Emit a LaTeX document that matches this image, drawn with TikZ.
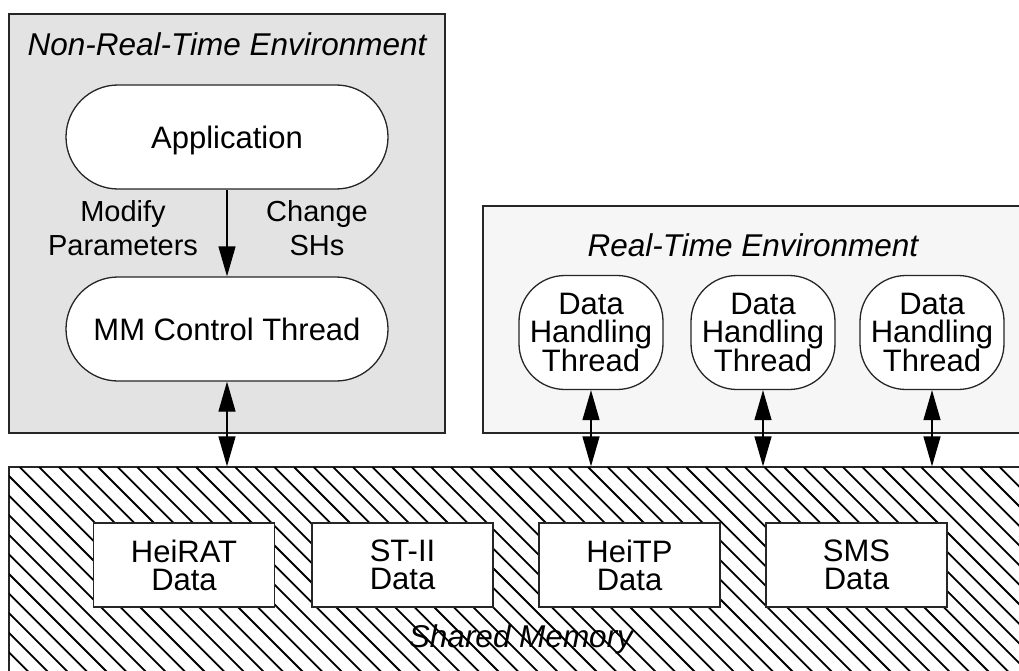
\documentclass[tikz,border=0pt]{standalone}
\usepackage{fontspec}
\setmainfont{Liberation Sans}
\usetikzlibrary{arrows.meta}

\begin{document}
\begin{tikzpicture}[x=1pt, y=-1pt,
  every node/.style={font=\fontsize{31}{28}\selectfont, align=center, inner sep=0pt},
  frame/.style={draw=black!85, line width=1.3pt},
  envbox/.style={frame},
  proc/.style={frame, fill=white, rounded corners=52pt,
    minimum width=322pt, minimum height=104pt, text height=23pt, text depth=0pt},
  dhthread/.style={frame, fill=white, rounded corners=46pt,
    minimum width=144pt, minimum height=114pt},
  databox/.style={frame, fill=white, minimum width=181pt, minimum height=84pt,
    font=\fontsize{31}{28}\selectfont},
  envtitle/.style={font=\fontsize{31.5}{34}\selectfont\itshape},
  flowlabel/.style={font=\fontsize{29}{34}\selectfont},
  flow/.style={line width=1.3pt, -{Triangle[length=30pt, width=17pt]}},
  duplex/.style={line width=1.3pt, {Triangle[length=30pt, width=17pt]}-{Triangle[length=30pt, width=17pt]}},
  hatch/.style={line width=1.8pt, black}
]
\clip (0,0) rectangle (1019,671);

% environments
\node[envbox, fill=black!11, minimum width=436pt, minimum height=419pt] (nrt) at (227,223.5) {};
\node[envbox, fill=black!3.5, minimum width=580pt, minimum height=227pt] (rt) at (773,319.5) {};

% shared memory region with hatching
\node[frame, fill=white, minimum width=1031pt, minimum height=233pt] (shm) at (524.5,583.5) {};
\begin{scope}
  \clip (shm.north west) rectangle (shm.south east);
  \foreach \k in {-14,...,54}
    \draw[hatch] (\k*19.6,467) -- ++(240,240);
\end{scope}
\draw[frame] (shm.south west) -- (shm.north west) -- (shm.north east);

% titles
\node[envtitle] (nrttitle) at (227,44) {Non-Real-Time Environment};
\node[envtitle] (rttitle) at (753,245.5) {Real-Time Environment};
\node[envtitle] (shmtitle) at (521,639) {Shared Memory};

% non-real-time processes
\node[proc] (app) at (227,137) {Application};
\node[proc] (mm) at (227,329) {MM Control Thread};
\draw[flow] (app.south) -- (mm.north);
\node[flowlabel] (modify) at (123,228) {Modify\\Parameters};
\node[flowlabel] (change) at (317,228) {Change\\SHs};

% real-time data handling threads
\node[dhthread] (dh1) at (591,332.5) {Data\\Handling\\Thread};
\node[dhthread] (dh2) at (763,332.5) {Data\\Handling\\Thread};
\node[dhthread] (dh3) at (932,332.5) {Data\\Handling\\Thread};

% shared data areas
\node[databox] (heirat) at (184,565) {HeiRAT\\Data};
\node[databox] (st2) at (402.5,565) {ST-II\\Data};
\node[databox] (heitp) at (629.5,565) {HeiTP\\Data};
\node[databox] (sms) at (856.5,565) {SMS\\Data};

% access to shared memory
\draw[duplex] (mm.south) -- (mm.south |- shm.north);
\draw[duplex] (dh1.south) -- (dh1.south |- shm.north);
\draw[duplex] (dh2.south) -- (dh2.south |- shm.north);
\draw[duplex] (dh3.south) -- (dh3.south |- shm.north);
\end{tikzpicture}
\end{document}
